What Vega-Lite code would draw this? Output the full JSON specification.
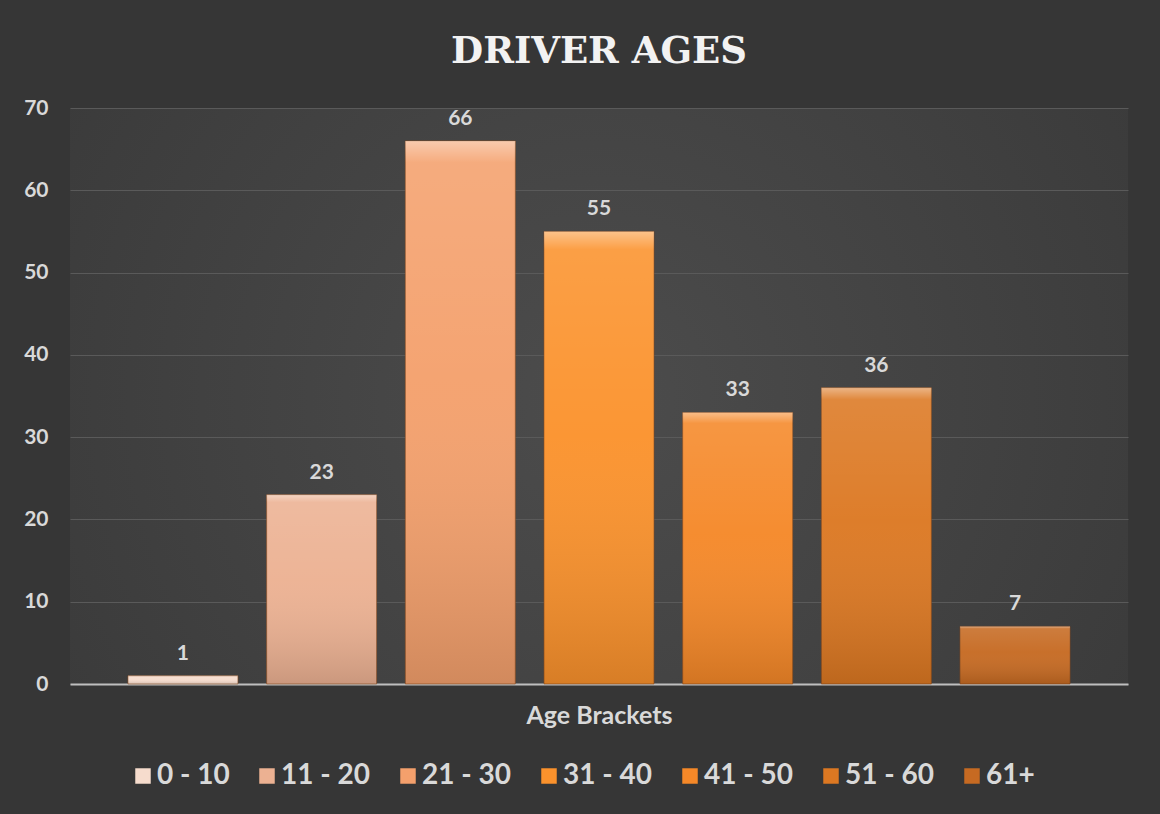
{
  "$schema": "https://vega.github.io/schema/vega-lite/v6.json",
  "width": 1058,
  "height": 576,
  "autosize": {"type": "none"},
  "padding": {"left": 70, "top": 108, "right": 32, "bottom": 130},
  "background": "#363636",
  "title": {
    "text": "DRIVER AGES",
    "font": "DejaVu Serif",
    "fontSize": 37,
    "fontWeight": "bold",
    "color": "#f2f2f2",
    "anchor": "middle",
    "baseline": "alphabetic",
    "offset": -3
  },
  "data": {
    "values": [
      {"bracket": "0 - 10", "count": 1},
      {"bracket": "11 - 20", "count": 23},
      {"bracket": "21 - 30", "count": 66},
      {"bracket": "31 - 40", "count": 55},
      {"bracket": "41 - 50", "count": 33},
      {"bracket": "51 - 60", "count": 36},
      {"bracket": "61+", "count": 7}
    ]
  },
  "encoding": {
    "x": {
      "field": "bracket",
      "type": "nominal",
      "sort": null,
      "scale": {"paddingInner": 0.207, "paddingOuter": 0.418},
      "axis": {
        "title": "Age Brackets",
        "labels": false,
        "ticks": false,
        "domainColor": "#bfbfbf",
        "domainWidth": 2,
        "titleFont": "Lato",
        "titleFontSize": 25,
        "titleFontWeight": "bold",
        "titleColor": "#d9d9d9",
        "titlePadding": 19
      }
    },
    "y": {
      "field": "count",
      "type": "quantitative",
      "scale": {"domain": [0, 70]},
      "axis": {
        "title": null,
        "values": [0, 10, 20, 30, 40, 50, 60, 70],
        "domain": false,
        "ticks": false,
        "labelPadding": 22,
        "labelFont": "Lato",
        "labelFontSize": 21,
        "labelFontWeight": "bold",
        "labelColor": "#d9d9d9",
        "gridColor": "#5a5a5a",
        "gridWidth": 1
      }
    }
  },
  "layer": [
    {
      "mark": {"type": "bar", "stroke": "#8a4a1a", "strokeWidth": 1, "strokeOpacity": 0.6},
      "encoding": {
        "color": {
          "field": "bracket",
          "type": "nominal",
          "sort": null,
          "scale": {
            "domain": ["0 - 10", "11 - 20", "21 - 30", "31 - 40", "41 - 50", "51 - 60", "61+"],
            "range": ["#f6dccd", "#ecb192", "#f4a06c", "#fb922c", "#f58828", "#dc7822", "#c66a22"]
          },
          "legend": {
            "title": null,
            "orient": "none",
            "legendX": 59,
            "legendY": 654,
            "direction": "horizontal",
            "columns": 7,
            "symbolType": "square",
            "symbolSize": 240,
            "symbolStrokeWidth": 0,
            "labelFont": "Lato",
            "labelFontSize": 28,
            "labelFontWeight": "bold",
            "labelColor": "#d9d9d9",
            "labelOffset": 0,
            "columnPadding": 23,
            "labelLimit": 200
          }
        }
      }
    },
    {
      "mark": {
        "type": "bar",
        "color": {"gradient": "linear", "x1": 0, "y1": 0, "x2": 0, "y2": 1, "stops": [{"offset": 0, "color": "rgba(255,255,255,0.45)"}, {"offset": 0.04, "color": "rgba(255,255,255,0.12)"}, {"offset": 0.45, "color": "rgba(255,255,255,0.04)"}, {"offset": 1, "color": "rgba(0,0,0,0.14)"}]}
      },
      "encoding": {}
    },
    {
      "mark": {
        "type": "text",
        "baseline": "bottom",
        "dy": -12,
        "font": "Lato",
        "fontSize": 21,
        "fontWeight": "bold",
        "color": "#d9d9d9"
      },
      "encoding": {"text": {"field": "count", "type": "quantitative"}}
    }
  ],
  "config": {
    "view": {
      "stroke": null,
      "fill": {"gradient": "radial", "x1": 0.5, "y1": 0.5, "r1": 0, "x2": 0.5, "y2": 0.5, "r2": 0.75, "stops": [{"offset": 0, "color": "#4c4c4c"}, {"offset": 1, "color": "#363636"}]}
    }
  }
}
